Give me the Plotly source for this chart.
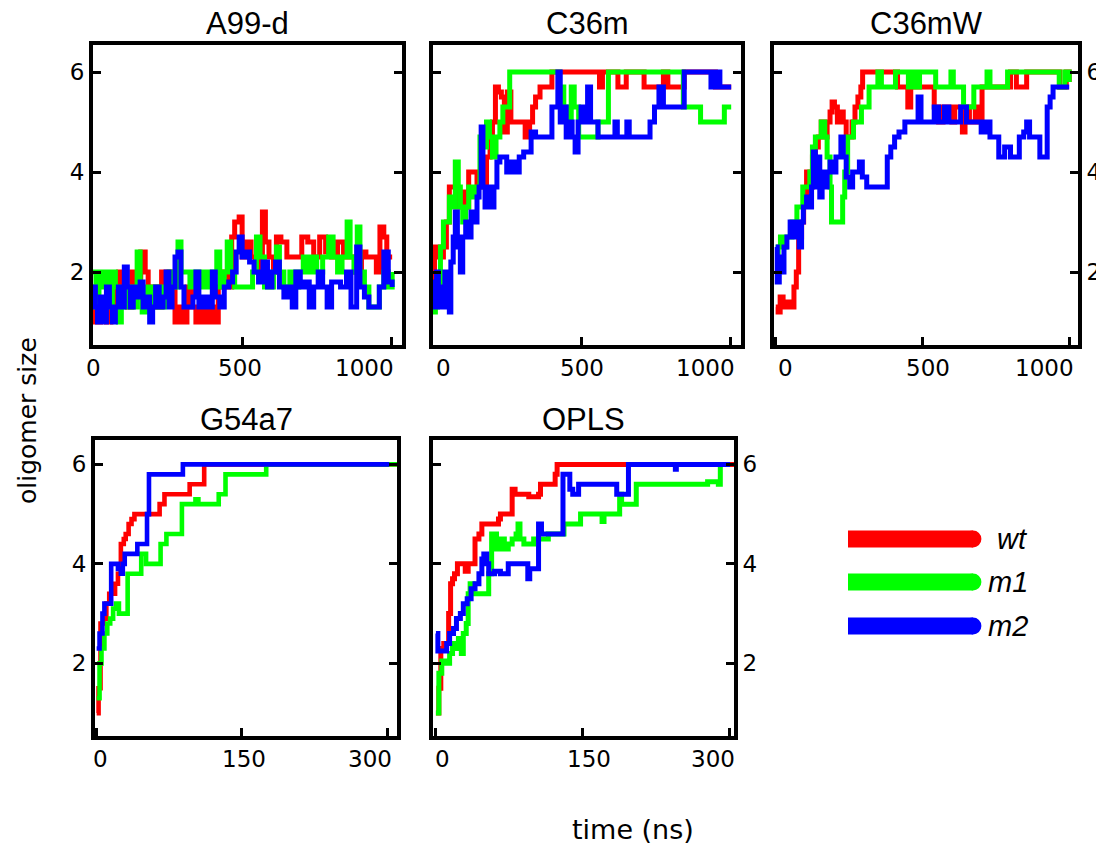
import plotly.graph_objects as go

# The page adds an 8px body margin, so the figure is drawn 8px smaller
# and every reference pixel position is shifted by that offset.
OFF = 8
W, H = 1104 - OFF, 846 - OFF

# ---------------- data ----------------
panel_names = ["A99-d", "C36m", "C36mW", "G54a7", "OPLS"]
series_names = ["wt", "m1", "m2"]
series_colors = ["#ff0000", "#00ff00", "#0000ff"]

# A99-d
a99_wt_t = [0, 8, 25, 45, 60, 75, 86, 100, 115, 130, 145, 160, 175, 185, 200, 215, 230, 250, 265, 275, 290, 300, 315, 330, 345, 360, 375, 390, 405, 420, 440, 455, 465, 475, 490, 500, 515, 530, 545, 560, 568, 578, 590, 605, 615, 630, 650, 690, 700, 720, 740, 760, 780, 800, 820, 840, 860, 880, 900, 915, 935, 950, 962, 975, 985, 1003]
a99_wt_v = [1.7, 1.0, 1.3, 1.0, 1.3, 1.7, 2.0, 1.7, 1.3, 2.0, 1.7, 2.4, 2.0, 1.3, 1.7, 1.3, 2.0, 1.7, 2.0, 1.0, 1.3, 1.0, 1.7, 1.3, 1.0, 1.3, 1.0, 1.3, 1.0, 1.7, 2.0, 1.7, 2.7, 3.0, 3.1, 2.3, 2.6, 2.3, 2.0, 2.3, 3.2, 2.6, 2.3, 2.0, 2.7, 2.6, 2.3, 2.3, 2.7, 2.6, 2.3, 2.7, 2.4, 2.3, 2.6, 2.3, 2.3, 2.0, 2.4, 2.3, 2.3, 2.0, 2.9, 2.7, 2.3, 2.3]
a99_m1_t = [0, 10, 20, 35, 45, 55, 65, 75, 85, 95, 105, 115, 125, 140, 148, 158, 165, 180, 195, 210, 225, 240, 255, 270, 285, 295, 310, 325, 340, 355, 370, 385, 400, 415, 425, 440, 450, 462, 475, 500, 520, 535, 548, 560, 575, 595, 605, 615, 625, 640, 660, 675, 690, 705, 720, 735, 750, 770, 790, 805, 820, 835, 852, 862, 875, 886, 895, 910, 925, 945, 960, 975, 990, 1003]
a99_m1_v = [2.0, 1.3, 2.0, 1.7, 2.0, 1.3, 2.0, 1.7, 1.0, 1.3, 1.7, 1.3, 1.7, 1.3, 2.4, 1.7, 1.2, 1.7, 1.3, 1.7, 1.3, 1.7, 2.0, 1.7, 2.6, 2.0, 2.0, 1.7, 2.0, 1.7, 2.0, 1.7, 2.0, 2.4, 1.7, 2.0, 2.6, 2.0, 1.7, 1.7, 1.7, 2.0, 2.7, 2.3, 1.7, 1.7, 2.0, 2.5, 2.0, 1.7, 2.0, 1.7, 2.0, 2.3, 2.0, 2.3, 2.0, 2.3, 2.7, 2.3, 2.0, 2.3, 3.0, 2.3, 2.0, 2.9, 2.0, 1.7, 1.3, 1.3, 1.7, 2.0, 1.7, 2.0]
a99_m2_t = [0, 8, 15, 25, 35, 45, 55, 65, 75, 85, 95, 105, 115, 125, 135, 145, 158, 168, 180, 190, 200, 210, 222, 235, 245, 255, 265, 275, 285, 295, 305, 320, 335, 345, 355, 370, 385, 400, 410, 425, 440, 455, 468, 480, 490, 500, 515, 525, 540, 555, 570, 585, 600, 612, 625, 640, 655, 668, 680, 695, 710, 725, 740, 755, 770, 785, 800, 830, 850, 865, 884, 895, 910, 925, 945, 960, 975, 990, 1003]
a99_m2_v = [1.7, 1.3, 1.0, 1.5, 1.0, 1.7, 1.3, 1.0, 1.3, 1.7, 1.3, 2.1, 1.7, 1.3, 1.7, 1.5, 1.8, 1.3, 1.5, 1.0, 1.3, 1.7, 1.3, 1.5, 2.0, 1.3, 1.7, 2.3, 2.4, 1.7, 1.3, 1.3, 1.5, 2.0, 1.3, 1.5, 1.3, 2.0, 1.5, 1.3, 1.7, 1.8, 2.0, 2.4, 2.7, 2.3, 2.4, 2.2, 2.0, 1.8, 2.2, 1.7, 2.0, 2.2, 1.7, 1.5, 1.7, 1.3, 2.0, 1.7, 1.8, 1.3, 1.7, 2.0, 1.7, 1.3, 1.8, 1.7, 2.0, 1.3, 2.5, 1.7, 1.5, 1.3, 1.3, 1.7, 2.4, 1.8, 1.7]

# C36m
c36m_wt_t = [0, 5, 20, 35, 45, 55, 70, 80, 95, 110, 120, 135, 148, 158, 170, 180, 192, 200, 210, 220, 230, 240, 250, 262, 275, 290, 310, 325, 335, 345, 360, 380, 400, 470, 520, 550, 560, 570, 610, 622, 640, 650, 700, 710, 730, 760, 775, 790, 830, 845, 900, 935, 950, 1003]
c36m_wt_v = [1.7, 2.5, 2.3, 2.5, 3.0, 3.7, 3.7, 3.3, 3.6, 3.3, 4.0, 4.0, 3.7, 4.0, 3.7, 4.3, 4.7, 5.0, 5.7, 5.6, 5.5, 4.8, 5.6, 5.0, 5.0, 5.0, 4.7, 5.0, 5.3, 5.5, 5.7, 5.7, 6.0, 6.0, 6.0, 6.0, 5.7, 6.0, 6.0, 5.7, 5.7, 6.0, 6.0, 5.7, 5.7, 5.7, 6.0, 5.7, 5.7, 6.0, 6.0, 6.0, 5.7, 5.7]
c36m_m1_t = [0, 8, 15, 25, 35, 45, 55, 65, 75, 85, 92, 100, 110, 120, 135, 148, 158, 170, 180, 190, 200, 212, 225, 235, 248, 258, 300, 350, 415, 425, 440, 455, 465, 475, 490, 505, 530, 545, 555, 580, 590, 650, 700, 750, 800, 840, 842, 895, 900, 975, 980, 1003]
c36m_m1_v = [1.2, 1.3, 1.7, 2.5, 3.0, 3.0, 3.5, 3.3, 4.2, 3.7, 3.3, 3.0, 3.3, 3.7, 3.5, 3.7, 4.7, 4.5, 5.0, 4.7, 4.3, 4.7, 5.0, 5.3, 5.3, 6.0, 6.0, 6.0, 6.0, 5.7, 5.3, 5.0, 5.7, 5.3, 4.7, 4.7, 4.7, 4.7, 5.0, 5.0, 6.0, 6.0, 6.0, 6.0, 6.0, 6.0, 5.3, 5.3, 5.0, 5.0, 5.3, 5.3]
c36m_m2_t = [0, 5, 12, 18, 25, 32, 40, 48, 55, 60, 68, 75, 82, 88, 92, 100, 110, 118, 128, 138, 148, 155, 162, 168, 175, 185, 195, 205, 215, 225, 240, 248, 260, 275, 290, 305, 320, 330, 345, 370, 395, 400, 412, 420, 428, 438, 448, 458, 468, 478, 488, 498, 510, 520, 530, 545, 555, 600, 612, 620, 640, 652, 660, 700, 720, 730, 745, 760, 775, 800, 840, 845, 900, 925, 935, 950, 965, 1003]
c36m_m2_v = [1.8, 1.3, 2.0, 1.3, 1.7, 1.3, 2.0, 1.5, 1.2, 2.2, 2.7, 3.2, 2.5, 2.7, 2.0, 2.7, 3.0, 2.7, 3.2, 3.0, 3.5, 3.7, 4.9, 3.7, 3.3, 3.7, 3.3, 3.7, 4.2, 4.3, 4.3, 4.0, 4.2, 4.0, 4.3, 4.4, 4.4, 4.8, 4.7, 4.7, 4.7, 5.3, 5.3, 6.0, 5.0, 5.3, 4.7, 5.0, 4.7, 4.4, 5.0, 5.3, 5.0, 5.7, 5.0, 5.0, 4.7, 4.7, 5.0, 4.7, 4.7, 5.0, 4.7, 4.7, 4.7, 5.0, 5.3, 5.7, 5.3, 5.3, 5.3, 6.0, 6.0, 6.0, 5.7, 6.0, 5.7, 5.7]

# C36mW
c36mw_wt_t = [0, 8, 15, 25, 40, 55, 62, 70, 78, 88, 95, 105, 115, 125, 135, 145, 155, 165, 175, 185, 192, 200, 210, 220, 230, 240, 250, 260, 270, 280, 290, 296, 350, 400, 415, 440, 450, 460, 500, 530, 540, 555, 570, 590, 600, 610, 625, 636, 645, 660, 680, 695, 703, 750, 780, 800, 820, 850, 855, 900, 960, 968, 990, 1000]
c36mw_wt_v = [1.3, 1.2, 1.5, 1.3, 1.4, 1.3, 1.7, 2.0, 2.7, 3.0, 3.5, 4.0, 3.7, 4.3, 4.5, 4.7, 5.0, 4.7, 5.0, 5.2, 5.4, 5.3, 5.0, 5.2, 5.0, 4.7, 4.7, 5.0, 5.3, 5.5, 5.7, 6.0, 6.0, 6.0, 5.7, 5.7, 5.3, 5.7, 5.7, 5.7, 5.3, 5.0, 5.3, 5.3, 5.0, 5.3, 5.3, 4.8, 5.3, 5.0, 5.3, 5.0, 5.7, 5.7, 5.7, 6.0, 5.7, 5.7, 6.0, 6.0, 6.0, 5.7, 6.0, 5.8]
c36mw_m1_t = [0, 8, 16, 25, 35, 45, 55, 65, 72, 82, 92, 105, 116, 125, 135, 145, 155, 162, 167, 175, 185, 190, 205, 220, 228, 235, 245, 255, 265, 280, 292, 305, 318, 335, 348, 360, 380, 400, 408, 440, 452, 465, 478, 490, 535, 545, 590, 597, 605, 625, 640, 660, 675, 700, 720, 730, 780, 790, 850, 900, 960, 966, 985, 1000]
c36mw_m1_v = [1.9, 2.5, 2.7, 2.5, 2.7, 2.7, 3.0, 3.0, 3.3, 3.3, 3.7, 3.7, 4.0, 4.5, 4.7, 4.7, 5.0, 5.0, 4.7, 4.3, 3.7, 3.0, 3.0, 3.0, 3.5, 4.0, 4.7, 4.7, 5.0, 5.0, 5.3, 5.3, 5.7, 5.7, 6.0, 5.7, 5.7, 5.7, 6.0, 6.0, 5.7, 6.0, 5.7, 6.0, 6.0, 5.7, 5.7, 6.0, 5.7, 5.7, 5.3, 5.3, 5.7, 5.7, 6.0, 5.7, 5.7, 6.0, 6.0, 6.0, 6.0, 5.7, 6.0, 5.8]
c36mw_m2_t = [0, 5, 12, 20, 28, 38, 49, 58, 66, 72, 80, 88, 94, 105, 115, 122, 128, 135, 142, 150, 158, 165, 175, 185, 195, 205, 215, 222, 230, 240, 252, 262, 275, 285, 295, 310, 330, 355, 370, 380, 392, 405, 420, 440, 460, 475, 485, 495, 520, 540, 555, 575, 590, 610, 630, 650, 670, 685, 700, 715, 730, 745, 760, 780, 800, 815, 830, 845, 855, 865, 890, 900, 915, 925, 935, 945, 970, 1000]
c36mw_m2_v = [2.5, 1.8, 2.3, 2.0, 2.5, 2.7, 3.0, 2.7, 3.0, 2.7, 2.5, 3.0, 3.3, 3.5, 3.3, 3.7, 4.4, 3.7, 4.3, 3.5, 4.0, 3.7, 4.0, 4.2, 4.0, 4.3, 4.3, 4.7, 4.3, 3.9, 3.7, 4.0, 4.0, 4.2, 3.9, 3.7, 3.7, 3.7, 3.7, 4.3, 4.5, 4.7, 4.8, 5.0, 5.0, 5.0, 5.5, 5.0, 5.0, 5.3, 5.0, 5.3, 5.0, 5.0, 5.3, 5.0, 5.0, 5.0, 4.8, 5.0, 4.7, 4.7, 4.3, 4.5, 4.3, 4.3, 4.7, 4.8, 5.0, 4.7, 4.7, 4.3, 4.3, 5.3, 5.5, 5.7, 5.7, 5.7]

# G54a7
g54_wt_t = [0, 2, 4, 7, 10, 13, 17, 19, 22, 25, 28, 30, 33, 36, 39, 50, 63, 65, 70, 80, 94, 96, 110, 111, 310]
g54_wt_v = [1.0, 1.5, 2.8, 2.9, 3.2, 3.4, 3.4, 3.6, 3.8, 4.4, 4.5, 4.6, 4.8, 4.9, 5.0, 5.0, 5.0, 5.2, 5.4, 5.4, 5.4, 5.6, 5.6, 6.0, 6.0]
g54_m1_t = [0, 3, 5, 8, 11, 14, 17, 20, 23, 30, 32, 40, 46, 51, 60, 66, 72, 85, 88, 100, 102, 105, 124, 126, 132, 133, 150, 174, 175, 310]
g54_m1_v = [1.3, 2.0, 2.3, 2.6, 2.8, 2.9, 3.1, 3.2, 3.0, 3.0, 3.8, 3.8, 4.2, 4.0, 4.0, 4.4, 4.6, 4.6, 5.2, 5.2, 5.3, 5.2, 5.2, 5.4, 5.4, 5.8, 5.8, 5.8, 6.0, 6.0]
g54_m2_t = [0, 3, 6, 8, 13, 15, 19, 22, 25, 27, 29, 34, 42, 50, 52, 54, 70, 88, 89, 150, 250, 302]
g54_m2_v = [2.3, 2.6, 3.0, 3.2, 3.2, 4.0, 4.0, 3.9, 3.8, 4.0, 4.2, 4.2, 4.4, 4.4, 5.0, 5.8, 5.8, 5.8, 6.0, 6.0, 6.0, 6.0]

# OPLS
opls_wt_t = [0, 3, 5, 8, 11, 13, 15, 17, 19, 22, 28, 30, 33, 38, 40, 44, 47, 55, 62, 64, 66, 76, 78, 81, 90, 95, 105, 107, 120, 122, 124, 200, 305]
opls_wt_v = [1.0, 1.5, 2.3, 2.4, 2.4, 3.0, 3.6, 3.7, 3.8, 4.0, 4.0, 3.85, 4.0, 4.0, 4.5, 4.6, 4.8, 4.8, 4.8, 4.9, 5.0, 5.0, 5.5, 5.4, 5.4, 5.35, 5.4, 5.6, 5.6, 5.8, 6.0, 6.0, 6.0]
opls_m1_t = [0, 3, 6, 10, 14, 17, 20, 23, 26, 28, 31, 33, 35, 38, 45, 52, 54, 57, 60, 62, 66, 70, 74, 78, 82, 84, 86, 90, 100, 105, 115, 130, 131, 146, 148, 168, 170, 172, 186, 188, 190, 203, 205, 260, 275, 278, 289, 291, 293]
opls_m1_v = [1.0, 1.8, 2.05, 2.0, 2.2, 2.4, 2.3, 2.5, 2.2, 2.6, 2.8, 3.4, 3.6, 3.4, 3.4, 3.4, 3.8, 4.6, 4.6, 4.3, 4.5, 4.3, 4.4, 4.5, 4.6, 4.8, 4.5, 4.4, 4.5, 4.5, 4.6, 4.6, 4.8, 4.8, 5.0, 5.0, 4.85, 5.0, 5.0, 5.4, 5.2, 5.2, 5.6, 5.6, 5.6, 5.65, 5.6, 6.0, 6.0]
opls_m2_t = [0, 2, 8, 11, 14, 18, 21, 25, 28, 32, 36, 40, 44, 47, 49, 52, 54, 60, 66, 74, 85, 94, 96, 103, 105, 108, 120, 128, 130, 135, 137, 140, 146, 160, 183, 185, 196, 197, 207, 244, 245, 246, 301]
opls_m2_v = [2.6, 2.25, 2.25, 2.4, 2.6, 2.7, 2.9, 3.0, 3.2, 3.3, 3.5, 3.6, 3.8, 4.1, 4.2, 4.0, 3.8, 3.85, 3.8, 4.0, 4.0, 3.7, 3.9, 3.9, 4.8, 4.6, 4.6, 4.6, 5.8, 5.8, 5.5, 5.4, 5.6, 5.6, 5.6, 5.4, 5.4, 6.0, 6.0, 6.0, 5.9, 6.0, 6.0]

top_xticks = [0, 500, 1000]
bottom_xticks = [0, 150, 300]
yticks = [2, 4, 6]

panel_data = [
    [(a99_wt_t, a99_wt_v), (a99_m1_t, a99_m1_v), (a99_m2_t, a99_m2_v)],
    [(c36m_wt_t, c36m_wt_v), (c36m_m1_t, c36m_m1_v), (c36m_m2_t, c36m_m2_v)],
    [(c36mw_wt_t, c36mw_wt_v), (c36mw_m1_t, c36mw_m1_v), (c36mw_m2_t, c36mw_m2_v)],
    [(g54_wt_t, g54_wt_v), (g54_m1_t, g54_m1_v), (g54_m2_t, g54_m2_v)],
    [(opls_wt_t, opls_wt_v), (opls_m1_t, opls_m1_v), (opls_m2_t, opls_m2_v)],
]

# ---------------- layout geometry (reference pixels) ----------------
def fx(p):
    return (p - OFF) / W

def fy(p):
    return 1 - (p - OFF) / H

# box: (left, right, top, bottom) in reference px
boxes = [
    (93, 402, 45, 345),
    (433, 741, 45, 345),
    (774, 1078, 45, 345),
    (95, 397, 440, 736),
    (433, 734, 440, 736),
]
xranges = [[0, 1036], [0, 1036], [-6, 1030], [-1.7, 310], [-3, 305]]
yranges = [[0.54, 6.54], [0.54, 6.54], [0.54, 6.54], [0.54, 6.49], [0.54, 6.49]]
xtick_sets = [top_xticks, top_xticks, top_xticks, bottom_xticks, bottom_xticks]
xlabel_shift = [[0, -2, -27], [10, 0, -25], [10, 6, -25], [4, 2, -17], [7, 6, -16]]
ylabel_side = ["left", None, "right", "left", "right"]
line_w = [5, 5, 5, 4.6, 5]

tick_font = dict(family="DejaVu Sans", size=23, color="black")
title_font = dict(family="Liberation Sans, Arial", size=31, color="black")

fig = go.Figure()
layout = dict(
    width=W, height=H,
    margin=dict(l=0, r=0, t=0, b=0),
    paper_bgcolor="white", plot_bgcolor="white",
    showlegend=False,
)
annotations = []
shapes = []

for i in range(5):
    n = "" if i == 0 else str(i + 1)
    l, r, t, b = boxes[i]
    for k, (tt, vv) in enumerate(panel_data[i]):
        fig.add_trace(go.Scatter(
            x=tt, y=vv, mode="lines", name=series_names[k],
            line=dict(color=series_colors[k], width=line_w[i], shape="hv"),
            xaxis="x" + n, yaxis="y" + n, hoverinfo="skip",
        ))
    layout["xaxis" + n] = dict(
        domain=[fx(l), fx(r)], anchor="y" + n, range=xranges[i],
        showline=True, linewidth=4, linecolor="black", mirror=True,
        ticks="inside", ticklen=8, tickwidth=2.5, tickcolor="black",
        tickvals=xtick_sets[i], showticklabels=False,
        showgrid=False, zeroline=False,
    )
    side = ylabel_side[i]
    layout["yaxis" + n] = dict(
        domain=[fy(b), fy(t)], anchor="x" + n, range=yranges[i],
        showline=True, linewidth=4, linecolor="black", mirror="ticks",
        ticks="inside", ticklen=8, tickwidth=2.5, tickcolor="black",
        tickvals=yticks, showticklabels=side is not None,
        side=side if side else "left", tickfont=tick_font,
        showgrid=False, zeroline=False,
    )
    for v, s in zip(xtick_sets[i], xlabel_shift[i]):
        annotations.append(dict(
            x=v, xref="x" + n, y=0, yref="y" + n + " domain",
            text=str(v), showarrow=False, xanchor="center", yanchor="top",
            xshift=s, yshift=-8, font=tick_font,
        ))
    annotations.append(dict(
        x=fx((l + r) / 2), y=fy(t - 21), xref="paper", yref="paper",
        text=panel_names[i], showarrow=False, xanchor="center", yanchor="middle",
        font=title_font,
    ))

# axis titles
annotations.append(dict(
    x=fx(28), y=fy(421), xref="paper", yref="paper", text="oligomer size",
    textangle=-90, showarrow=False, xanchor="center", yanchor="middle",
    font=dict(family="DejaVu Sans", size=25, color="black"),
))
annotations.append(dict(
    x=fx(633), y=fy(829), xref="paper", yref="paper", text="time (ns)",
    showarrow=False, xanchor="center", yanchor="middle",
    font=dict(family="DejaVu Sans", size=27, color="black"),
))

# legend (drawn manually: thick bars with rounded right end)
leg_y = [539, 582, 626]
half = 8.4
for k in range(3):
    c = series_colors[k]
    yc = leg_y[k]
    shapes.append(dict(type="rect", xref="paper", yref="paper",
                       x0=fx(848), x1=fx(973), y0=fy(yc + half), y1=fy(yc - half),
                       fillcolor=c, line=dict(width=0)))
    shapes.append(dict(type="circle", xref="paper", yref="paper",
                       x0=fx(973 - half), x1=fx(973 + half), y0=fy(yc + half), y1=fy(yc - half),
                       fillcolor=c, line=dict(width=0)))
    annotations.append(dict(
        x=fx(1030), y=fy(yc), xref="paper", yref="paper",
        text="<i>" + series_names[k] + "</i>", showarrow=False,
        xanchor="right", yanchor="middle",
        font=dict(family="Liberation Sans, Arial", size=29, color="black"),
    ))

layout["annotations"] = annotations
layout["shapes"] = shapes
fig.update_layout(**layout)
fig.write_html("out.html")
